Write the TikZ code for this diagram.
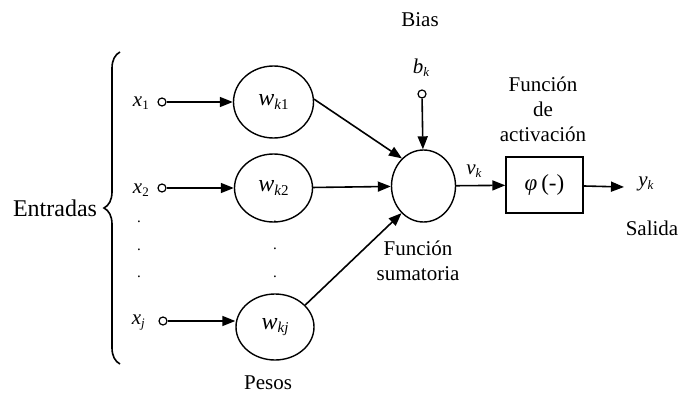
\documentclass[tikz,border=0pt]{standalone}
\usepackage{fontspec}
\setmainfont{Liberation Serif}
\usetikzlibrary{shapes.geometric,arrows.meta,decorations.pathreplacing}
\newcommand{\vsub}[2]{\textit{#1}\raisebox{-0.3ex}{\fontsize{13}{13}\selectfont #2}}
\newcommand{\wsub}[1]{\textit{w}\raisebox{-0.3ex}{\fontsize{15}{15}\selectfont #1}}
\begin{document}
\begin{tikzpicture}[x=1pt,y=-1pt,
  txt/.style={font=\fontsize{21}{25}\selectfont, inner sep=0pt},
  wnode/.style={draw, ellipse, line width=1.4pt, inner sep=0pt, font=\fontsize{24}{26}\selectfont},
  inp/.style={draw, circle, line width=1.2pt, minimum size=8pt, inner sep=0pt},
  arr/.style={line width=1.6pt, -{Triangle[length=13pt,width=10pt]}},
  dotlbl/.style={font=\fontsize{15}{15}\selectfont, inner sep=0pt}]
\useasboundingbox (0,0) rectangle (695,393);

% weight nodes
\node[wnode, minimum width=80pt, minimum height=72pt] (w1) at (273.5,102) {\wsub{\textit{k}1}};
\node[wnode, minimum width=78pt, minimum height=68pt] (w2) at (273.5,188) {\wsub{\textit{k}2}};
\node[wnode, minimum width=78pt, minimum height=66pt] (wj) at (275,327) {\wsub{\textit{kj}}};

% sum node
\node[wnode, minimum width=64pt, minimum height=72pt] (sum) at (423.5,186) {};

% activation box
\node[draw, line width=1.4pt, minimum width=77pt, minimum height=56pt, inner sep=0pt,
      font=\fontsize{23}{26}\selectfont] (act) at (544.5,185) {\textit{φ}\,(-)};

% inputs
\node[inp] (c1) at (162,102) {};
\node[inp] (c2) at (162,188) {};
\node[inp] (cj) at (163,321) {};
\node[txt, anchor=east] (x1) at (149,103) {\vsub{x}{1}};
\node[txt, anchor=east] (x2) at (149,190) {\vsub{x}{2}};
\node[txt, anchor=east] (xj) at (145,323) {\vsub{x}{\textit{j}}};

% dots
\node[dotlbl] (d1) at (139,222) {.};
\node[dotlbl] (d2) at (139,250) {.};
\node[dotlbl] (d3) at (139,277) {.};
\node[dotlbl] (e1) at (275,222) {.};
\node[dotlbl] (e2) at (275,249) {.};
\node[dotlbl] (e3) at (275,277) {.};

% bias
\node[txt] (biaslbl) at (420,20) {Bias};
\node[txt] (bk) at (421,68) {\vsub{b}{\textit{k}}};
\node[inp] (cb) at (422,94) {};

% labels
\node[txt] (entr) at (55,208) {\fontsize{24}{26}\selectfont Entradas};
\node[txt] (pesos) at (268,383) {Pesos};
\node[txt, align=center] (fsum) at (418,261) {Función\\sumatoria};
\node[txt, align=center] (fact) at (543,109) {Función\\de\\activación};
\node[txt] (vk) at (474,171) {\vsub{v}{\textit{k}}};
\node[txt] (yk) at (646,184) {\vsub{y}{\textit{k}}};
\node[txt] (salida) at (652,228) {Salida};

\coordinate (out) at (624,187);
\coordinate (bt) at (120,364);
\coordinate (bb) at (120,52);

% brace
\draw[line width=1.6pt, decorate, decoration={brace, amplitude=16pt}] (bt) -- (bb);

% connectors
\draw[arr] (c1) -- (w1);
\draw[arr] (c2) -- (w2);
\draw[arr] (cj) -- (wj.west |- cj);
\draw[arr] (w1.4) -- (sum.128);
\draw[arr] (w2) -- (sum);
\draw[arr] (wj.36) -- (sum.231);
\draw[arr] (cb) -- (sum);
\draw[arr] (sum) -- (act);
\draw[arr] (act) -- (out);
\end{tikzpicture}
\end{document}
